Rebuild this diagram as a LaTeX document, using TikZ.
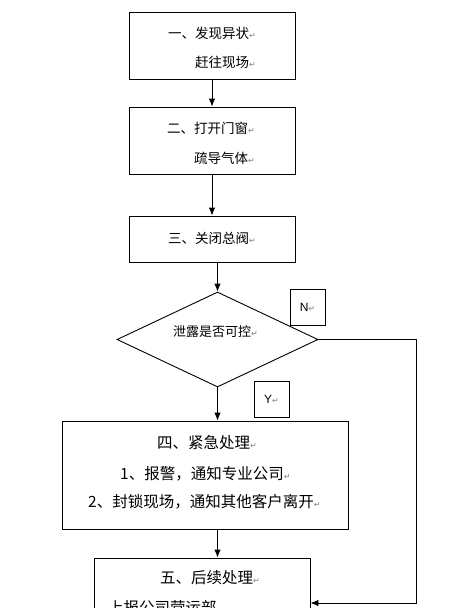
\documentclass[tikz,border=0pt]{standalone}
\usepackage{fontspec}
\setmainfont{Liberation Sans}
\newfontfamily\cjk{Noto Sans CJK SC}
\newfontfamily\symf{DejaVu Sans}
\usetikzlibrary{arrows.meta,shapes.geometric}
\newcommand\rt{{\symf\fontsize{8}{8}\selectfont\textcolor{gray}{↵}}}
\begin{document}
\begin{tikzpicture}[x=1pt,y=-1pt,
  box/.style={draw, line width=0.9pt, inner sep=0pt},
  txt/.style={anchor=west, inner sep=0pt, font=\cjk\fontsize{13.5}{14}\selectfont},
  big/.style={anchor=west, inner sep=0pt, font=\cjk\fontsize{15.5}{16}\selectfont},
  lab/.style={inner sep=0pt, font=\fontsize{12}{12}\selectfont},
  conn/.style={line width=0.9pt},
  arr/.style={conn, -{Latex[length=8pt,width=6.5pt]}}
]
\useasboundingbox (0,0) rectangle (452,608);
\clip (0,0) rectangle (452,608);
% boxes
\node[box, minimum width=166pt, minimum height=67pt] (b1) at (212,45.5) {};
\node[box, minimum width=166pt, minimum height=67pt] (b2) at (212,140.5) {};
\node[box, minimum width=166pt, minimum height=46pt] (b3) at (212,239) {};
\node[box, diamond, minimum width=201pt, minimum height=95pt] (d) at (217.5,339.5) {};
\node[box, minimum width=35pt, minimum height=36pt] (nb) at (307.5,307) {};
\node[box, minimum width=35pt, minimum height=36pt] (yb) at (271.5,399) {};
\node[box, minimum width=286pt, minimum height=108pt] (b4) at (205,475) {};
\node[box, minimum width=216pt, minimum height=110pt] (b5) at (202,613) {};
% texts
\node[txt] (t1a) at (168,33) {一、发现异状\rt};
\node[txt] (t1b) at (195,62) {赶往现场\rt};
\node[txt] (t2a) at (167,128) {二、打开门窗\rt};
\node[txt] (t2b) at (194,158) {疏导气体\rt};
\node[txt] (t3) at (168,238) {三、关闭总阀\rt};
\node[txt, font=\cjk\fontsize{13}{14}\selectfont] (td) at (173,332) {泄露是否可控\rt};
\node[lab] (tn) at (nb) {N\rt};
\node[lab] (ty) at (yb) {Y\rt};
\node[big] (t4a) at (157,443) {四、紧急处理\rt};
\node[big] (t4b) at (120,474) {1、报警，通知专业公司\rt};
\node[big] (t4c) at (88,502) {2、封锁现场，通知其他客户离开\rt};
\node[big] (t5a) at (160,578) {五、后续处理\rt};
\node[big] (t5b) at (108,608) {上报公司营运部\rt};
% connectors
\coordinate (c1) at (416,339.5);
\coordinate (c2) at (416,603);
\draw[arr] (b1.south) -- (b2.north);
\draw[arr] (b2.south) -- (b3.north);
\draw[arr] (b3.south -| d.north) -- (d.north);
\draw[arr] (d.south) -- (d.south |- b4.north);
\draw[arr] (d.south |- b4.south) -- (d.south |- b5.north);
\draw[arr] (d.east) -- (c1) -- (c2) -- (c2 -| b5.east);
\end{tikzpicture}
\end{document}
